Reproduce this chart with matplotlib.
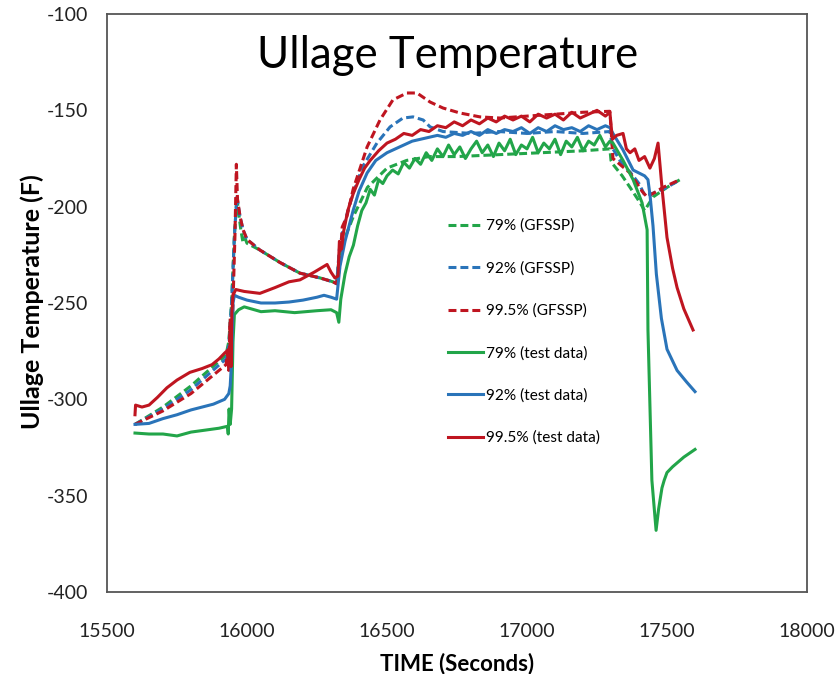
import matplotlib
matplotlib.use("Agg")
import matplotlib.pyplot as plt

plt.rcParams["axes.unicode_minus"] = False

# ---------------- data ----------------
# GFSSP model results (dashed)
t_g79 = [15600, 15700, 15800, 15925, 15935, 15945, 15955, 15964, 15970, 15978, 15985, 15992, 16000,
         16046, 16118, 16189, 16261, 16307, 16320, 16330, 16345, 16380, 16430, 16500, 16570, 16650,
         16750, 16900, 17050, 17200, 17296, 17300, 17307, 17340, 17368, 17404, 17420, 17450, 17500, 17546]
v_g79 = [-313, -304, -293, -277, -270, -250, -215, -195, -203, -212, -218, -216, -219,
         -222.5, -229, -234.5, -237, -239, -240, -225, -218, -205, -190, -180, -176, -174,
         -174, -173, -172, -171, -170, -176, -178, -184, -190, -198, -202, -195, -190, -186]

t_b92 = [15600, 15700, 15800, 15925, 15935, 15945, 15955, 15964, 15975, 15986, 16000, 16046, 16118,
         16189, 16261, 16307, 16320, 16330, 16343, 16355, 16379, 16414, 16464, 16511, 16557, 16593,
         16629, 16654, 16700, 16800, 16900, 17000, 17100, 17200, 17296, 17307, 17340, 17368, 17400,
         17420, 17450, 17500, 17546]
v_b92 = [-313, -305, -295, -279, -272, -250, -215, -195, -205, -212, -217, -222.5, -229,
         -234.5, -237, -239, -240, -222, -212, -205, -193, -179, -167, -158.6, -154, -153.4,
         -155, -158.6, -161, -162, -161, -162, -161, -162, -161, -170, -178, -182, -188,
         -194, -193, -190, -186]

t_r995 = [15600, 15700, 15800, 15925, 15930, 15935, 15940, 15945, 15950, 15957, 15962, 15966, 15975,
          15986, 16000, 16046, 16118, 16189, 16261, 16307, 16320, 16332, 16340, 16357, 16379, 16429,
          16475, 16521, 16571, 16607, 16654, 16700, 16761, 16832, 16904, 17000, 17100, 17200, 17296,
          17307, 17368, 17411, 17429, 17486, 17546]
v_r995 = [-313, -306, -297, -282, -276, -285, -258, -275, -250, -215, -178, -196, -205,
          -212, -217, -222.5, -229, -234.5, -237, -239, -240, -231, -210.6, -205, -191, -169,
          -155, -144.6, -141, -141, -145.7, -148.8, -151.4, -153.4, -154, -153, -152, -151, -150.5,
          -175, -182.5, -192, -195, -190, -186]

# Test data (solid)
t_g79_test = [15600, 15650, 15700, 15750, 15800, 15850, 15900, 15930, 15933, 15936, 15940, 15945, 15950,
              15955, 15970, 15990, 16050, 16100, 16170, 16250, 16300, 16320, 16328, 16335, 16350, 16365,
              16380, 16395, 16410, 16425, 16440, 16455, 16470, 16485, 16500, 16520, 16540, 16560, 16580,
              16600, 16620, 16640, 16660, 16680, 16700, 16720, 16740, 16760, 16780, 16800, 16820, 16840,
              16860, 16880, 16900, 16920, 16940, 16960, 16980, 17000, 17020, 17040, 17060, 17080, 17100,
              17120, 17140, 17160, 17180, 17200, 17220, 17240, 17260, 17280, 17296, 17307, 17343, 17379,
              17411, 17429, 17432, 17446, 17461, 17470, 17482, 17490, 17500, 17520, 17536, 17560, 17600]
v_g79_test = [-317.5, -318, -318, -319, -317, -316, -315, -314, -318, -305, -313, -305, -270,
              -256, -253.5, -252, -254.5, -254, -255, -254, -253.5, -255, -260, -248, -235, -226,
              -220, -210, -202, -198, -191, -194, -186, -188, -184, -181, -183, -177, -180,
              -175, -178, -172, -176, -170, -174, -168, -173, -169, -175, -170, -166, -172,
              -168, -174, -167, -171, -165, -173, -168, -170, -164, -172, -167, -170, -165,
              -173, -166, -169, -164, -171, -166, -168, -163, -169, -166, -167, -176, -186,
              -198, -212, -264, -342, -368, -357, -346, -342, -338, -335, -333, -330, -326]

t_b92_test = [15600, 15650, 15700, 15750, 15800, 15880, 15920, 15935, 15940, 15945, 15950, 15955, 15970,
              16000, 16050, 16100, 16150, 16200, 16250, 16275, 16300, 16320, 16332, 16350, 16379, 16400,
              16429, 16460, 16500, 16530, 16560, 16590, 16620, 16650, 16680, 16710, 16740, 16770, 16800,
              16830, 16860, 16890, 16920, 16950, 16980, 17010, 17040, 17070, 17100, 17130, 17160, 17190,
              17220, 17250, 17280, 17296, 17307, 17343, 17379, 17420, 17432, 17440, 17450, 17462, 17480,
              17500, 17536, 17570, 17600]
v_b92_test = [-313, -312.5, -310, -308, -305.5, -302.5, -300, -297, -293, -280, -250, -246, -247,
              -248.5, -250, -250, -249.5, -248.5, -247, -246, -247, -248, -231, -218, -202, -192,
              -182.5, -176, -172, -170, -168, -166, -165, -164, -163, -164, -162, -163, -161,
              -163, -160, -162, -160, -161, -159, -162, -159, -161, -158, -160, -159, -161,
              -158, -160, -158, -159, -162, -170.6, -181, -184, -186, -195, -210, -235, -258,
              -274, -285, -291, -296]

t_r995_test = [15600, 15602, 15625, 15650, 15680, 15714, 15750, 15796, 15840, 15875, 15900, 15920, 15935,
               15938, 15940, 15943, 15946, 15950, 15960, 15990, 16046, 16100, 16150, 16189, 16240, 16286,
               16300, 16314, 16325, 16330, 16338, 16345, 16360, 16380, 16400, 16420, 16440, 16470, 16500,
               16530, 16560, 16590, 16620, 16650, 16680, 16710, 16740, 16770, 16800, 16830, 16860, 16890,
               16920, 16950, 16980, 17010, 17040, 17070, 17100, 17130, 17160, 17190, 17220, 17250, 17280,
               17296, 17305, 17320, 17343, 17355, 17368, 17385, 17400, 17420, 17439, 17455, 17468, 17476,
               17482, 17500, 17520, 17536, 17560, 17593]
v_r995_test = [-308, -303, -304, -303, -299, -294, -290, -286, -284, -282, -279, -276, -274,
               -282, -262, -283, -255, -246, -243, -244, -245, -242, -239, -238, -234, -230,
               -234, -237, -236, -218, -222, -213, -202, -193, -186, -180, -176, -171, -167,
               -165, -162, -163, -160, -161, -158, -159, -156, -158, -155, -157, -154, -156,
               -153, -155, -153, -156, -152, -154, -152, -155, -151, -154, -152, -150, -153,
               -151, -165, -163, -162, -170, -172, -170, -176, -174, -180, -175, -167, -180,
               -190, -216, -232, -242, -253, -264]

labels = ["79% (GFSSP)", "92% (GFSSP)", "99.5% (GFSSP)",
          "79% (test data)", "92% (test data)", "99.5% (test data)"]
x_ticks = [15500, 16000, 16500, 17000, 17500, 18000]
y_ticks = [-400, -350, -300, -250, -200, -150, -100]

# ---------------- style ----------------
GREEN = "#22a549"
BLUE = "#2a74b9"
RED = "#bf1520"

fig = plt.figure(figsize=(8.39, 6.74), dpi=100)
ax = fig.add_axes([107/839, 1-592/674, 700/839, 578/674])

dash = (2.6, 1.3)
lw = 2.2
ax.plot(t_g79, v_g79, color=GREEN, lw=lw, dashes=dash, label=labels[0])
ax.plot(t_b92, v_b92, color=BLUE, lw=lw, dashes=dash, label=labels[1])
ax.plot(t_r995, v_r995, color=RED, lw=lw, dashes=dash, label=labels[2])
ax.plot(t_g79_test, v_g79_test, color=GREEN, lw=lw, label=labels[3])
ax.plot(t_b92_test, v_b92_test, color=BLUE, lw=lw, label=labels[4])
ax.plot(t_r995_test, v_r995_test, color=RED, lw=lw, label=labels[5])

ax.set_xlim(15500, 18000)
ax.set_ylim(-400, -100)
ax.set_xticks(x_ticks)
ax.set_yticks(y_ticks)
ax.tick_params(length=0, labelsize=14, colors="#222222")
ax.tick_params(axis="x", pad=22)
ax.tick_params(axis="y", pad=13.5)
for lab in ax.get_xticklabels() + ax.get_yticklabels():
    lab.set_fontfamily(["Lato", "DejaVu Sans"])
for s in ax.spines.values():
    s.set_color("#555555")
    s.set_linewidth(1.3)

ax.set_xlabel("TIME (Seconds)", fontsize=16, fontweight="bold", family=["Lato", "DejaVu Sans"])
ax.set_ylabel("Ullage Temperature (F)", fontsize=18, fontweight="bold", family=["Lato", "DejaVu Sans"])
ax.xaxis.set_label_coords(0.5, -0.105)
ax.yaxis.set_label_coords(-0.090, 0.502)

ax.text(0.486, 0.928, "Ullage Temperature", transform=ax.transAxes, ha="center", va="center",
        fontsize=31.5, family=["Lato", "DejaVu Sans"], color="black")

leg = ax.legend(loc="upper left", bbox_to_anchor=(0.476, 0.659), frameon=False,
                handlelength=2.3, handletextpad=0.15, labelspacing=1.82, borderpad=0,
                prop={"family": ["Lato", "DejaVu Sans"], "size": 11.1})

fig.savefig("out.png", dpi=100)
